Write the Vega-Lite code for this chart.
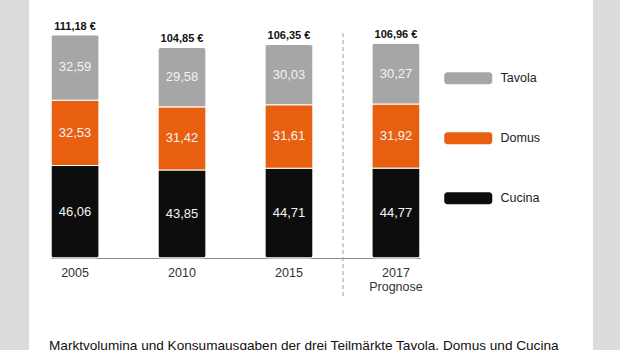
{
  "$schema": "https://vega.github.io/schema/vega-lite/v6.json",
  "width": 564,
  "height": 350,
  "padding": {"left": 29, "right": 27, "top": 0, "bottom": 0},
  "autosize": {"type": "pad"},
  "background": "#dcdcdc",
  "config": {
    "view": {"fill": "white", "stroke": null},
    "font": "Liberation Sans",
    "locale": {"number": {"decimal": ",", "thousands": ".", "grouping": [3], "currency": ["", " €"]}}
  },
  "title": {
    "text": "Marktvolumina und Konsumausgaben der drei Teilmärkte Tavola, Domus und Cucina",
    "orient": "bottom",
    "anchor": "start",
    "offset": -11,
    "dx": 20,
    "fontSize": 13.6,
    "fontWeight": "normal",
    "color": "#111111",
    "font": "Liberation Sans",
    "baseline": "top"
  },
  "data": {
    "values": [
      {"year": "2005", "segment": "Cucina", "value": 46.06},
      {"year": "2005", "segment": "Domus", "value": 32.53},
      {"year": "2005", "segment": "Tavola", "value": 32.59},
      {"year": "2010", "segment": "Cucina", "value": 43.85},
      {"year": "2010", "segment": "Domus", "value": 31.42},
      {"year": "2010", "segment": "Tavola", "value": 29.58},
      {"year": "2015", "segment": "Cucina", "value": 44.71},
      {"year": "2015", "segment": "Domus", "value": 31.61},
      {"year": "2015", "segment": "Tavola", "value": 30.03},
      {"year": "2017", "segment": "Cucina", "value": 44.77},
      {"year": "2017", "segment": "Domus", "value": 31.92},
      {"year": "2017", "segment": "Tavola", "value": 30.27}
    ]
  },
  "layer": [
    {
      "mark": {"type": "bar", "cornerRadius": 3, "stroke": "white", "strokeWidth": 1},
      "encoding": {
        "x": {
          "field": "year",
          "type": "ordinal",
          "scale": {"range": [22, 391], "paddingInner": 0.55, "paddingOuter": 0},
          "axis": {
            "title": null,
            "orient": "bottom",
            "offset": -92,
            "ticks": false,
            "grid": false,
            "domainColor": "#8a8a8a",
            "domainWidth": 1,
            "labelFontSize": 12.5,
            "labelColor": "#333333",
            "labelPadding": 8,
            "labelAngle": 0,
            "labelLineHeight": 14,
            "labelBaseline": "top",
            "labelExpr": "datum.value == '2017' ? ['2017', 'Prognose'] : datum.value"
          }
        },
        "y": {
          "field": "value",
          "type": "quantitative",
          "stack": "zero",
          "scale": {"domain": [0, 128.5], "range": [258, 0], "nice": false, "zero": true},
          "axis": null
        },
        "color": {
          "field": "segment",
          "type": "nominal",
          "scale": {"domain": ["Tavola", "Domus", "Cucina"], "range": ["#a6a6a6", "#e8600f", "#0d0d0d"]},
          "legend": {
            "title": null,
            "orient": "none",
            "legendX": 433,
            "legendY": 72,
            "padding": 0,
            "symbolType": "M-3.5,-1H3.5A0.5,0.5,0,0,1,4,-0.5V0.5A0.5,0.5,0,0,1,3.5,1H-3.5A0.5,0.5,0,0,1,-4,0.5V-0.5A0.5,0.5,0,0,1,-3.5,-1Z",
            "symbolSize": 144,
            "symbolStrokeWidth": 0,
            "symbolOpacity": 1,
            "labelFontSize": 12.5,
            "labelColor": "#222222",
            "labelOffset": 26,
            "rowPadding": 47,
            "labelLimit": 200
          }
        },
        "order": {"field": "segment", "sort": "ascending"}
      }
    },
    {
      "mark": {"type": "text", "color": "#f4f4f4", "fontSize": 13, "baseline": "middle"},
      "encoding": {
        "x": {"field": "year", "type": "ordinal"},
        "y": {"field": "value", "type": "quantitative", "stack": "zero", "bandPosition": 0.5},
        "detail": {"field": "segment"},
        "order": {"field": "segment", "sort": "ascending"},
        "text": {"field": "value", "type": "quantitative", "format": ".2f"}
      }
    },
    {
      "transform": [{"aggregate": [{"op": "sum", "field": "value", "as": "total"}], "groupby": ["year"]}],
      "mark": {"type": "text", "color": "#111111", "fontSize": 11, "fontWeight": "bold", "baseline": "alphabetic", "dy": -5},
      "encoding": {
        "x": {"field": "year", "type": "ordinal"},
        "y": {"field": "total", "type": "quantitative"},
        "text": {"field": "total", "type": "quantitative", "format": "$.2f"}
      }
    },
    {
      "data": {"values": [{}]},
      "mark": {"type": "rule", "strokeDash": [4, 3], "color": "#9a9a9a", "strokeWidth": 1},
      "encoding": {
        "x": {"datum": "2017", "type": "ordinal", "bandPosition": -0.6},
        "y": {"datum": 112},
        "y2": {"datum": -19.4}
      }
    }
  ]
}
